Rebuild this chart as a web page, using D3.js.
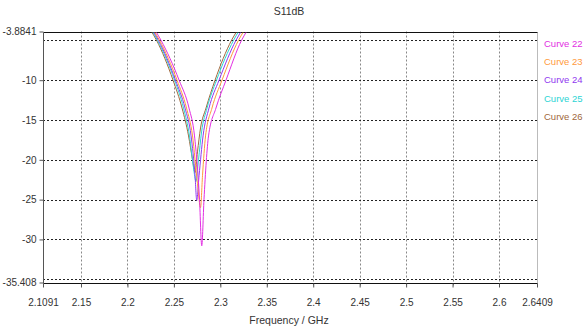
<!DOCTYPE html>
<html>
<head>
<meta charset="utf-8">
<script src="https://cdn.jsdelivr.net/npm/d3@7"></script>
<style>
  body { margin: 0; background: #fff; }
  text { font-family: "Liberation Sans Narrow", "Liberation Sans", Arial, sans-serif; font-size: 10.5px; fill: #333; }
  .tick text { font-size: 10px; }
  .legend text { font-size: 9.5px; }
</style>
</head>
<body>
<div id="chart"></div>
<script>
// S11 sweep, frequency in GHz, magnitude in dB
const curveNames = ['Curve 22', 'Curve 23', 'Curve 24', 'Curve 25', 'Curve 26']
const curveColors = ['#e22ee2', '#ff9a3c', '#9038f0', '#2cd4d4', '#a0683c']

const curve22 = [[2.2244,-2.5],[2.2308,-3.9],[2.2362,-5],[2.2556,-10],[2.2663,-13.5],[2.2722,-17],[2.2776,-25],[2.2800,-30.8],[2.2824,-25],[2.2873,-17],[2.2953,-13.5],[2.3061,-10],[2.3228,-5],[2.3281,-3.9],[2.3346,-2.5]]
const curve23 = [[2.2228,-2.5],[2.2292,-3.9],[2.2346,-5],[2.2534,-10],[2.2636,-13.5],[2.2701,-17],[2.2754,-23],[2.2787,-26],[2.2808,-22],[2.2841,-17],[2.2910,-13.5],[2.3018,-10],[2.3195,-5],[2.3249,-3.9],[2.3314,-2.5]]
const curve24 = [[2.2217,-2.5],[2.2281,-3.9],[2.2335,-5],[2.2518,-10],[2.2620,-13.5],[2.2685,-17],[2.2728,-22],[2.2746,-25.1],[2.2771,-22],[2.2814,-17],[2.2878,-13.5],[2.2986,-10],[2.3168,-5],[2.3222,-3.9],[2.3287,-2.5]]
const curve25 = [[2.2206,-2.5],[2.2271,-3.9],[2.2324,-5],[2.2507,-10],[2.2604,-13.5],[2.2668,-17],[2.2711,-21],[2.2738,-22.7],[2.2765,-20],[2.2798,-16.5],[2.2857,-13.5],[2.2959,-10],[2.3142,-5],[2.3195,-3.9],[2.3260,-2.5]]
const curve26 = [[2.2195,-2.5],[2.2260,-3.9],[2.2314,-5],[2.2491,-10],[2.2588,-13.5],[2.2658,-17],[2.2701,-20],[2.2728,-21.6],[2.2754,-19],[2.2787,-16],[2.2846,-13.5],[2.2943,-10],[2.3120,-5],[2.3174,-3.9],[2.3238,-2.5]]
const series = [curve22, curve23, curve24, curve25, curve26]

const xDomain = [2.1091, 2.6409]
const yDomain = [-35.408, -3.8841]
const xTicks = [2.1091, 2.15, 2.2, 2.25, 2.3, 2.35, 2.4, 2.45, 2.5, 2.55, 2.6, 2.6409]
const yTicks = [-3.8841, -10, -15, -20, -25, -30, -35.408]
const xGrid = [2.15, 2.2, 2.25, 2.3, 2.35, 2.4, 2.45, 2.5, 2.55, 2.6]
const yGrid = [-5, -10, -15, -20, -25, -30, -35]

const width = 584, height = 331
const margin = {top: 31.5, right: 47, bottom: 48.5, left: 43}

const svg = d3.select('#chart').append('svg')
    .attr('width', width)
    .attr('height', height)

const x = d3.scaleLinear().domain(xDomain).range([margin.left, width - margin.right])
const y = d3.scaleLinear().domain(yDomain).range([height - margin.bottom, margin.top])

// grid
svg.append('g').selectAll('line')
    .data(xGrid)
    .join('line')
    .attr('x1', d => Math.round(x(d)) + 0.5).attr('x2', d => Math.round(x(d)) + 0.5)
    .attr('y1', y.range()[1]).attr('y2', y.range()[0] + 4)
    .attr('stroke', '#888')
    .attr('stroke-dasharray', '2,2')

svg.append('g').selectAll('line')
    .data(yGrid)
    .join('line')
    .attr('x1', x.range()[0]).attr('x2', x.range()[1])
    .attr('y1', d => Math.round(y(d)) + 0.5).attr('y2', d => Math.round(y(d)) + 0.5)
    .attr('stroke', '#222')
    .attr('stroke-dasharray', '2,2')

// frame
const x0 = x.range()[0] + 0.5, x1 = x.range()[1] + 0.5
const yT = Math.round(y.range()[1]) + 0.5, yB = Math.round(y.range()[0]) + 0.5
svg.append('line').attr('x1', x1).attr('x2', x1).attr('y1', yT).attr('y2', yB).attr('stroke', '#bbb')
svg.append('line').attr('x1', x0).attr('x2', x1).attr('y1', yT).attr('y2', yT).attr('stroke', '#111')
svg.append('line').attr('x1', x0).attr('x2', x1).attr('y1', yB).attr('y2', yB).attr('stroke', '#111')
svg.append('line').attr('x1', x0).attr('x2', x0).attr('y1', yT).attr('y2', yB).attr('stroke', '#555')

// axes
const xAxis = svg.append('g')
    .attr('transform', `translate(0,${yB})`)
    .call(d3.axisBottom(x).tickValues(xTicks).tickFormat(d => d).tickSize(4).tickPadding(11))
xAxis.select('.domain').remove()
xAxis.selectAll('line').attr('stroke', '#555')

const yAxis = svg.append('g')
    .attr('transform', `translate(${x0},0)`)
    .call(d3.axisLeft(y).tickValues(yTicks).tickFormat(d => d).tickSize(4).tickPadding(3))
yAxis.select('.domain').remove()
yAxis.selectAll('line').attr('stroke', '#555')
xAxis.attr('font-family', null).attr('font-size', null)
yAxis.attr('font-family', null).attr('font-size', null)
svg.selectAll('.tick text').attr('fill', null)

// curves
svg.append('clipPath').attr('id', 'clip')
    .append('rect')
    .attr('x', x.range()[0]).attr('y', yT)
    .attr('width', x.range()[1] - x.range()[0]).attr('height', yB - yT)

const line = d3.line()
    .x(d => x(d[0]))
    .y(d => y(d[1]))
    .curve(d3.curveMonotoneX)

svg.append('g').attr('clip-path', 'url(#clip)')
    .selectAll('path')
    .data(series.slice().reverse())
    .join('path')
    .attr('d', line)
    .attr('fill', 'none')
    .attr('stroke', (d, i) => curveColors[series.length - 1 - i])
    .attr('stroke-width', 1)

// legend
svg.append('g').attr('class', 'legend').selectAll('text')
    .data(curveNames)
    .join('text')
    .attr('x', 544)
    .attr('y', (d, i) => 47 + i * 18.2)
    .style('fill', (d, i) => curveColors[i])
    .text(d => d)

// titles
svg.append('text')
    .attr('x', 289).attr('y', 15)
    .attr('text-anchor', 'middle')
    .text('S11dB')

svg.append('text')
    .attr('x', 289).attr('y', 324)
    .attr('text-anchor', 'middle')
    .text('Frequency / GHz')
</script>
</body>
</html>
